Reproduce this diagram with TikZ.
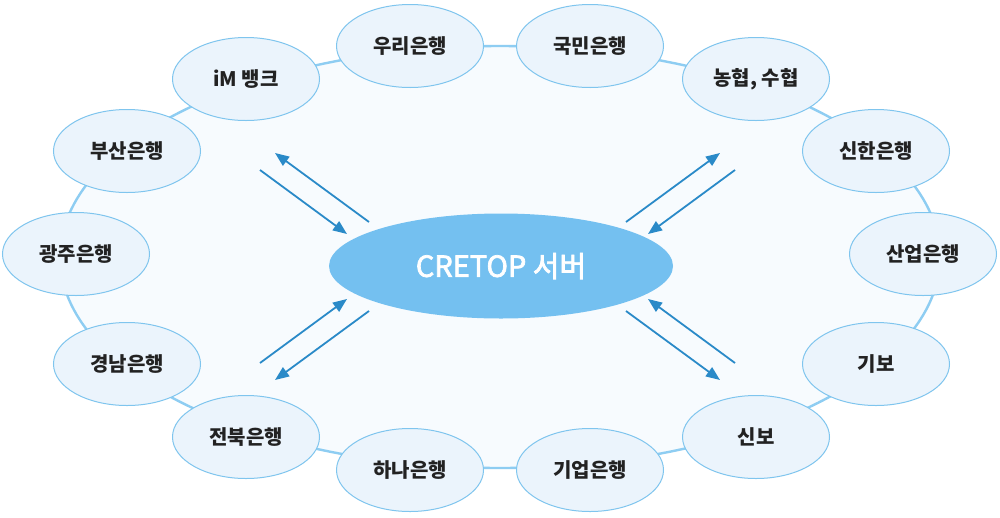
\documentclass[tikz,border=0pt]{standalone}
\usepackage{fontspec}
\setmainfont{Noto Sans CJK KR}
\newfontfamily\srvfont[FakeBold=2.5]{Noto Sans CJK KR}
\usetikzlibrary{arrows.meta,shapes.geometric}
\definecolor{ringline}{HTML}{8ECDF2}
\definecolor{ringfill}{HTML}{F7FBFE}
\definecolor{bankfill}{HTML}{EBF4FC}
\definecolor{bankline}{HTML}{7FC5EE}
\definecolor{server}{HTML}{74C0F0}
\definecolor{arrowc}{HTML}{2A8AC8}
\definecolor{txt}{HTML}{222222}
\tikzset{
  bank/.style={ellipse, draw=bankline, fill=bankfill, line width=1pt,
    minimum width=147pt, minimum height=83pt, inner sep=0pt,
    font=\fontsize{20}{22}\selectfont\bfseries, text=txt},
  link/.style={draw=arrowc, line width=1.8pt, -{Triangle[length=14pt,width=11pt]}}
}
\begin{document}
\begin{tikzpicture}[x=1pt,y=-1pt]
\useasboundingbox (0,0) rectangle (1000,517);
\fill[white] (0,0) rectangle (1000,517);
\draw[ringline, fill=ringfill, line width=2.4pt] (500,257) ellipse[x radius=440, y radius=211];
\node[bank] (woori) at (410,46) {우리은행};
\node[bank] (kb) at (590,46) {국민은행};
\node[bank] (im) at (246,79) {iM 뱅크};
\node[bank] (nh) at (756,79) {농협, 수협};
\node[bank] (busan) at (127,151) {부산은행};
\node[bank] (shinhan) at (876,151) {신한은행};
\node[bank] (gwangju) at (76,254) {광주은행};
\node[bank] (kdb) at (923,254) {산업은행};
\node[bank] (gyeongnam) at (127,364) {경남은행};
\node[bank] (kibo) at (876,364) {기보};
\node[bank] (jeonbuk) at (246,437) {전북은행};
\node[bank] (sinbo) at (756,437) {신보};
\node[bank] (hana) at (410,470) {하나은행};
\node[bank] (ibk) at (590,470) {기업은행};
\node[ellipse, fill=server, minimum width=344pt, minimum height=105pt, inner sep=0pt,
  text=white, font=\srvfont\fontsize{29}{32}\selectfont] (srv) at (501,266) {CRETOP 서버};
% arrow end points
\coordinate (a1s) at (369,222); \coordinate (a1e) at (275,153);
\coordinate (a2s) at (260,170); \coordinate (a2e) at (347,234);
\coordinate (a3s) at (626,222); \coordinate (a3e) at (720,153);
\coordinate (a4s) at (735,170); \coordinate (a4e) at (648,234);
\coordinate (a5s) at (260,363); \coordinate (a5e) at (347,299);
\coordinate (a6s) at (369,311); \coordinate (a6e) at (275,380);
\coordinate (a7s) at (735,363); \coordinate (a7e) at (648,299);
\coordinate (a8s) at (626,311); \coordinate (a8e) at (720,380);
\foreach \i in {1,...,8} { \draw[link] (a\i s) -- (a\i e); }
\end{tikzpicture}
\end{document}
